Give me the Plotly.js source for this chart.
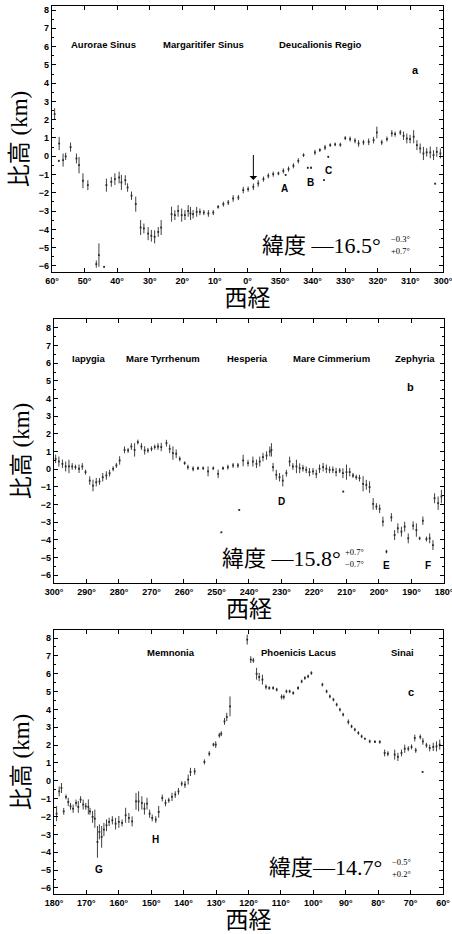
<!DOCTYPE html>
<html><head><meta charset="utf-8">
<script src="https://cdn.plot.ly/plotly-3.0.1.min.js"></script>
<style>html,body{margin:0;padding:0;background:#fff}#chart{width:452px;height:934px}</style>
</head><body><div id="chart"></div>
<script>
// ---------- Panel a (latitude -16.5°) ----------
const aLon = [59.2,57.8,57.9,56.6,55.8,54.3,52.5,51.7,50.5,49.0,43.3,41.8,40.7,39.4,38.7,37.5,36.8,35.6,34.3,32.8,31.8,30.5,29.5,28.5,27.4,26.5,23.3,22.3,21.3,20.2,19.2,18.2,17.5,16.7,15.6,14.6,13.4,12.0,10.5,9.0,7.4,5.9,4.4,2.8,1.3,359.8,358.2,356.7,355.1,353.6,352.1,350.5,349.0,347.4,345.9,344.4,342.8,341.5,340.5,339.3,337.8,336.2,334.6,333.1,331.5,330.0,328.5,327.0,325.9,324.4,322.8,321.3,320.3,318.8,317.2,315.7,314.7,313.1,312.1,311.1,310.1,309.0,308.0,307.0,306.0,305.0,303.9,302.9,301.9,300.8,302.4,335.2,336.5,348.3,45.6,46.4,44.0];
const aH = [2.31,0.70,-0.25,-0.21,-0.01,0.50,-0.12,-0.49,-1.34,-1.58,-1.58,-1.40,-1.25,-1.16,-1.43,-1.31,-1.71,-2.16,-2.62,-3.90,-3.95,-4.23,-4.35,-4.41,-4.14,-3.90,-3.17,-3.22,-2.99,-3.22,-3.22,-2.99,-3.13,-3.17,-3.04,-3.04,-3.08,-3.13,-3.08,-2.77,-2.62,-2.53,-2.31,-2.26,-1.85,-1.80,-1.67,-1.49,-1.25,-1.07,-0.98,-0.94,-0.80,-0.70,-0.52,-0.25,0.06,-0.63,-0.63,0.21,0.34,0.48,0.61,0.65,0.63,0.99,0.94,0.85,0.70,0.76,0.79,0.88,1.30,0.76,0.94,1.25,1.21,1.30,1.12,0.97,0.94,1.07,0.61,0.43,0.15,0.21,0.21,0.06,0.24,0.15,-1.50,-0.03,-1.31,-1.02,-5.41,-5.90,-6.05];
const aErr = [0.32,0.36,0.05,0.36,0.20,0.25,0.27,0.45,0.41,0.27,0.36,0.27,0.32,0.32,0.41,0.27,0.23,0.23,0.41,0.41,0.27,0.36,0.32,0.36,0.27,0.41,0.41,0.27,0.32,0.36,0.27,0.32,0.36,0.23,0.27,0.18,0.14,0.18,0.14,0.10,0.14,0.14,0.18,0.14,0.18,0.14,0.18,0.18,0.14,0.14,0.14,0.10,0.14,0.14,0.14,0.14,0.10,0.05,0.05,0.14,0.10,0.14,0.10,0.10,0.11,0.11,0.14,0.14,0.18,0.14,0.18,0.18,0.32,0.14,0.14,0.18,0.14,0.14,0.23,0.27,0.23,0.36,0.27,0.27,0.36,0.23,0.32,0.27,0.27,0.27,0.04,0.05,0.04,0.05,0.64,0.20,0.04];
const aTickVals = [60,50,40,30,20,10,0,-10,-20,-30,-40,-50,-60];
const aTickText = ["60°","50°","40°","30°","20°","10°","0°","350°","340°","330°","320°","310°","300°"];
const aRegions = ["Aurorae Sinus","Margaritifer Sinus","Deucalionis Regio"];
const aFeatures = ["A","B","C"];
const aLat = ["緯度 —16.5°","−0.3°","+0.7°"];

// ---------- Panel b (latitude -15.8°) ----------
const bLon = [299.5,298.5,297.4,296.4,295.4,294.4,293.4,292.3,291.3,290.3,289.0,288.0,287.0,286.0,285.0,283.9,282.9,281.8,280.8,279.8,278.3,277.2,276.2,275.2,274.2,273.1,272.1,271.1,270.0,269.0,268.0,267.0,265.4,264.4,263.4,262.4,261.3,259.8,258.8,257.2,255.7,254.1,252.6,251.0,249.5,248.0,246.5,244.9,243.4,241.8,240.3,238.8,237.7,236.7,235.7,234.6,233.6,233.1,232.6,231.6,230.6,229.6,228.5,227.5,226.5,225.4,224.4,223.4,222.4,221.4,220.3,219.3,218.3,217.2,216.2,215.2,214.2,213.2,212.1,211.1,210.0,209.0,208.0,207.0,206.0,204.9,203.9,202.9,211.0,201.8,200.8,199.8,198.8,196.2,195.2,194.2,193.1,192.1,191.0,189.5,188.5,187.5,186.5,185.4,184.4,183.4,182.9,181.8,180.8,197.7,243.0,248.5];
const bH = [0.58,0.43,0.30,0.15,0.15,0.15,0.11,0.02,0.15,-0.17,-0.65,-0.93,-0.74,-0.70,-0.46,-0.36,-0.23,0.02,0.21,0.49,1.09,1.06,1.28,1.09,1.53,1.28,1.06,1.06,1.15,1.25,1.28,1.25,1.47,1.15,0.91,0.87,0.58,0.34,0.11,0.02,0.05,0.05,-0.13,0.05,-0.27,0.05,0.11,0.21,0.21,0.49,0.34,0.43,0.30,0.43,0.68,0.77,1.00,1.09,0.11,-0.32,-0.46,-0.65,-0.23,0.43,0.15,0.15,0.05,0.05,-0.04,-0.17,-0.13,-0.27,0.02,0.11,0.02,-0.04,-0.04,-0.17,-0.08,-0.23,-0.17,-0.17,-0.36,-0.46,-0.51,-0.83,-0.89,-1.02,-1.27,-1.97,-2.12,-2.25,-2.97,-2.73,-3.73,-3.35,-3.54,-3.26,-3.92,-3.20,-3.45,-3.92,-2.92,-3.96,-3.92,-4.30,-1.65,-1.93,-1.55,-4.67,-2.31,-3.58];
const bErr = [0.24,0.28,0.24,0.28,0.38,0.19,0.14,0.24,0.19,0.14,0.24,0.33,0.24,0.19,0.24,0.24,0.19,0.14,0.14,0.24,0.19,0.14,0.19,0.38,0.14,0.19,0.24,0.14,0.14,0.14,0.19,0.24,0.19,0.24,0.38,0.24,0.14,0.10,0.14,0.14,0.10,0.10,0.28,0.10,0.24,0.10,0.14,0.14,0.14,0.33,0.19,0.28,0.24,0.28,0.24,0.24,0.28,0.38,0.24,0.28,0.24,0.33,0.19,0.28,0.19,0.38,0.28,0.19,0.19,0.24,0.19,0.24,0.24,0.24,0.24,0.19,0.19,0.24,0.14,0.28,0.43,0.24,0.14,0.14,0.19,0.43,0.28,0.33,0.04,0.33,0.19,0.24,0.28,0.24,0.28,0.28,0.28,0.28,0.28,0.24,0.38,0.10,0.24,0.14,0.28,0.28,0.28,0.38,0.38,0.10,0.04,0.04];
const bTickVals = [300,290,280,270,260,250,240,230,220,210,200,190,180];
const bTickText = ["300°","290°","280°","270°","260°","250°","240°","230°","220°","210°","200°","190°","180°"];
const bRegions = ["Iapygia","Mare Tyrrhenum","Hesperia","Mare Cimmerium","Zephyria"];
const bFeatures = ["D","E","F"];
const bLat = ["緯度 —15.8°","+0.7°","−0.7°"];

// ---------- Panel c (latitude -14.7°) ----------
const cLon = [179.2,178.4,177.7,177.0,176.3,175.6,174.9,174.1,173.2,172.5,171.8,171.0,170.2,169.4,168.9,168.1,167.4,166.6,166.0,165.3,164.6,163.8,163.0,162.0,161.0,160.0,159.0,157.9,156.9,155.9,154.7,153.9,152.9,152.1,151.3,150.5,149.7,148.6,147.7,146.6,145.6,144.6,143.6,142.6,141.6,140.6,139.6,138.6,137.9,136.6,133.6,132.1,130.8,130.1,129.0,128.4,127.4,126.7,125.7,120.4,119.3,118.5,117.5,116.7,115.7,114.6,113.6,112.4,111.3,109.8,109.1,108.3,107.3,106.2,104.7,103.6,102.6,101.6,100.6,97.2,95.9,94.9,93.8,92.8,91.8,90.8,89.2,88.2,87.2,86.1,85.1,84.1,82.6,81.0,79.5,78.0,77.0,74.9,73.9,72.8,71.8,70.7,69.7,68.4,68.7,67.0,66.2,65.1,64.1,63.0,62.0,61.0,66.3];
const cH = [-1.84,-0.59,-0.40,-1.71,-0.90,-1.18,-1.43,-1.56,-1.24,-1.46,-1.05,-1.33,-1.43,-1.46,-1.71,-2.02,-2.12,-3.42,-2.86,-3.14,-2.73,-2.49,-2.30,-2.21,-2.40,-2.30,-2.36,-1.93,-2.08,-2.27,-1.15,-1.15,-1.24,-1.56,-1.28,-1.84,-2.08,-2.17,-1.74,-0.96,-1.24,-1.09,-0.90,-0.77,-0.59,-0.16,-0.21,0.07,0.50,0.53,1.06,1.52,2.03,2.03,2.55,2.64,3.33,3.58,4.17,7.91,6.79,6.75,6.00,5.82,5.67,5.26,5.20,5.20,5.11,4.70,4.70,5.01,5.01,4.92,5.20,5.57,5.76,5.85,6.04,5.39,5.01,4.73,4.55,4.27,3.99,3.71,3.30,3.05,2.87,2.68,2.49,2.36,2.21,2.19,2.18,1.56,1.52,1.47,1.34,1.56,1.80,1.80,1.90,1.71,2.40,2.46,2.21,1.99,1.84,1.90,1.93,2.03,0.50];
const cErr = [0.42,0.28,0.28,0.19,0.14,0.23,0.19,0.23,0.19,0.33,0.19,0.28,0.19,0.42,0.19,0.33,0.51,0.89,0.42,0.61,0.37,0.33,0.23,0.23,0.33,0.33,0.19,0.42,0.28,0.28,0.47,0.56,0.37,0.33,0.33,0.23,0.19,0.19,0.33,0.19,0.19,0.14,0.23,0.19,0.19,0.14,0.19,0.28,0.23,0.19,0.14,0.14,0.10,0.19,0.14,0.14,0.19,0.23,0.56,0.28,0.19,0.14,0.33,0.23,0.28,0.14,0.10,0.10,0.10,0.14,0.14,0.10,0.10,0.10,0.10,0.10,0.10,0.10,0.10,0.10,0.10,0.10,0.10,0.10,0.10,0.10,0.14,0.10,0.10,0.10,0.10,0.05,0.10,0.07,0.10,0.19,0.14,0.28,0.23,0.19,0.23,0.14,0.14,0.14,0.19,0.14,0.19,0.14,0.19,0.23,0.28,0.28,0.04];
const cTickVals = [180,170,160,150,140,130,120,110,100,90,80,70,60];
const cTickText = ["180°","170°","160°","150°","140°","130°","120°","110°","100°","90°","80°","70°","60°"];
const cRegions = ["Memnonia","Phoenicis Lacus","Sinai"];
const cFeatures = ["G","H"];
const cLat = ["緯度—14.7°","−0.5°","+0.2°"];

const panelLetters = ["a","b","c"];
const yTitle = "比高 (km)";
const xTitle = "西経";

// ---------- build ----------
const INK = "#2a2a2a";
// panel a wraps through 0°: longitudes above 180 become negative on a reversed axis
const aX = aLon.map(v => v > 180 ? v - 360 : v);

function trace(x, y, e, xa, ya) {
  return {type:"scatter", mode:"markers", x:x, y:y, xaxis:xa, yaxis:ya,
    marker:{size:1.8, color:INK, symbol:"square"},
    error_y:{type:"data", array:e, visible:true, thickness:0.9, width:0, color:INK},
    hoverinfo:"skip", showlegend:false};
}
const data = [
  trace(aX, aH, aErr, "x", "y"),
  trace(bLon, bH, bErr, "x2", "y2"),
  trace(cLon, cH, cErr, "x3", "y3")
];

const tickFont = {family:"Liberation Sans, Arial, sans-serif", size:9, weight:"bold", color:"#000"};
const titleFont = {family:"Liberation Serif, 'Noto Sans CJK JP', serif", size:23, color:"#000"};
function xAxis(dom, range, tv, tt, anchor) {
  return {domain:dom, range:range, anchor:anchor, tickvals:tv, ticktext:tt,
    ticks:"inside", ticklen:4, tickwidth:1, tickcolor:"#000", mirror:"ticks",
    ticklabeloverflow:"allow",
    showline:true, linecolor:"#000", linewidth:1.2, showgrid:false, zeroline:false,
    tickfont:tickFont, title:{text:xTitle, font:titleFont, standoff:2}};
}
function yAxis(dom, range, anchor) {
  return {domain:dom, range:range, anchor:anchor, dtick:1, tick0:0,
    ticks:"inside", ticklen:4, tickwidth:1, tickcolor:"#000", mirror:"ticks",
    minor:{ticks:"inside", ticklen:2, dtick:0.5, tickcolor:"#000"},
    ticklabeloverflow:"allow",
    showline:true, linecolor:"#000", linewidth:1.2, showgrid:false, zeroline:false,
    tickfont:tickFont, title:{text:yTitle, font:titleFont, standoff:4}};
}

const regionFont = {family:"Liberation Sans, Arial, sans-serif", size:9.5, weight:"bold", color:"#000"};
const featFont = {family:"Liberation Sans, Arial, sans-serif", size:10, weight:"bold", color:"#000"};
const letterFont = {family:"Liberation Sans, Arial, sans-serif", size:11, weight:"bold", color:"#000"};
const latFont = {family:"Liberation Serif, 'Noto Sans CJK JP', serif", size:22, color:"#000"};
const smallFont = {family:"Liberation Serif, serif", size:8.5, color:"#000"};

const ann = [];
function txt(xr, yr, x, y, text, font, xanchor) {
  ann.push({xref:xr, yref:yr, x:x, y:y, text:text, font:font, showarrow:false, xanchor:xanchor||"center", yanchor:"middle"});
}
// panel a
[44.3, 13.6, -22.3].forEach((x,i)=>txt("x","y",x,6.1,aRegions[i],regionFont));
[[-11.5,-1.76],[-19.2,-1.45],[-24.8,-0.8]].forEach((p,i)=>txt("x","y",p[0],p[1],aFeatures[i],featFont));
txt("x","y",-51.5,4.7,panelLetters[0],letterFont);
txt("x","y",-3.8,-4.86,aLat[0],latFont,"left");
txt("x","y",-46.9,-4.5,aLat[1],smallFont);
txt("x","y",-46.9,-5.18,aLat[2],smallFont);
ann.push({xref:"x", yref:"y", axref:"x", ayref:"y", x:-1.8, y:-1.3, ax:-1.8, ay:0.15,
  text:"", showarrow:true, arrowhead:1, arrowsize:1.3, arrowwidth:1, arrowcolor:"#000"});
// panel b
[289.5, 266.5, 240.6, 214.7, 189].forEach((x,i)=>txt("x2","y2",x,6.26,bRegions[i],regionFont));
[[230,-1.84],[197.7,-5.47],[185,-5.47]].forEach((p,i)=>txt("x2","y2",p[0],p[1],bFeatures[i],featFont));
txt("x2","y2",190.3,4.65,panelLetters[1],letterFont);
txt("x2","y2",248.9,-5.08,bLat[0],latFont,"left");
txt("x2","y2",207.4,-4.72,bLat[1],smallFont);
txt("x2","y2",207.4,-5.36,bLat[2],smallFont);
// panel c
[144, 104.5, 72.6].forEach((x,i)=>txt("x3","y3",x,7.2,cRegions[i],regionFont));
[[166.1,-4.97],[148.7,-3.3]].forEach((p,i)=>txt("x3","y3",p[0],p[1],cFeatures[i],featFont));
txt("x3","y3",70,5.0,panelLetters[2],letterFont);
txt("x3","y3",114.3,-4.88,cLat[0],latFont,"left");
txt("x3","y3",72.7,-4.54,cLat[1],smallFont);
txt("x3","y3",72.7,-5.22,cLat[2],smallFont);

const layout = {
  width:452, height:934, paper_bgcolor:"#fff", plot_bgcolor:"#fff",
  margin:{l:52, r:8, t:6, b:40},
  showlegend:false,
  xaxis: xAxis([0,0.9974],[60,-60],aTickVals,aTickText,"y"),
  yaxis: yAxis([0.7005,1],[-6.33,8.22],"x"),
  xaxis2: xAxis([0.0051,1],[300,180],bTickVals,bTickText,"y2"),
  yaxis2: yAxis([0.3502,0.6475],[-6.45,8.5],"x2"),
  xaxis3: xAxis([0.0051,0.9974],[180,60],cTickVals,cTickText,"y3"),
  yaxis3: yAxis([0,0.2973],[-6.34,8.45],"x3"),
  annotations: ann
};
Plotly.newPlot("chart", data, layout, {staticPlot:true, displayModeBar:false});
</script></body></html>
